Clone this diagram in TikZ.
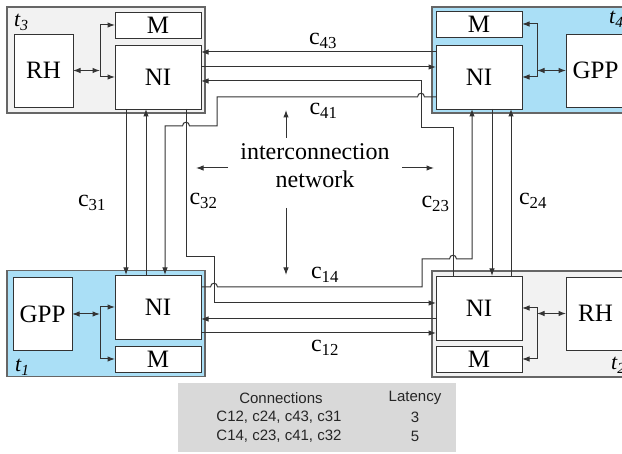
\documentclass[tikz,border=0pt]{standalone}
\usepackage{fontspec}
\setmainfont{Liberation Serif}
\newfontfamily\tabfont{Liberation Sans}
\usepackage{xcolor}
\usetikzlibrary{arrows.meta, positioning}
\definecolor{tileblue}{RGB}{170,223,246}

\begin{document}
\begin{tikzpicture}[
  x=1pt, y=-1pt,
  node distance=7pt,
  tile/.style={draw=black!60, line width=1.3pt, minimum width=198pt, minimum height=106pt, inner sep=0pt, outer sep=0pt},
  box/.style={draw=black!80, fill=white, line width=0.9pt, inner sep=0pt, outer sep=0pt, font=\fontsize{25}{29}\selectfont},
  nibox/.style={box, minimum width=86pt, minimum height=64pt},
  mbox/.style={box, minimum width=86pt, minimum height=26pt},
  pebox/.style={box, minimum width=59pt, minimum height=73pt},
  lbl/.style={font=\fontsize{24}{28}\selectfont, inner sep=0pt, anchor=base},
  tlbl/.style={font=\fontsize{22}{26}\selectfont\itshape, inner sep=0pt, anchor=base west},
  tbltext/.style={font=\tabfont\fontsize{15}{18}\selectfont, text=black!85, inner sep=0pt},
  arr/.style={-{Latex[length=7.5pt, width=5.5pt]}, line width=1pt, draw=black!80},
  dblarr/.style={{Latex[length=7.5pt, width=5.5pt]}-{Latex[length=7.5pt, width=5.5pt]}, line width=1pt, draw=black!80}
]
\useasboundingbox (0,0) rectangle (622,454);
\clip (0,0) rectangle (622,454);

% tiles
\node[tile, fill=gray!10] (tile3) at (106,60) {};
\node[tile, fill=tileblue] (tile4) at (531,60) {};
\node[tile, fill=tileblue] (tile1) at (106,323.5) {};
\node[tile, fill=gray!10] (tile2) at (531,324) {};
\node[tlbl] (lt3) at (14,27) {t\textsubscript{3}};
\node[tlbl] (lt4) at (609,24) {t\textsubscript{4}};
\node[tlbl] (lt1) at (15,372) {t\textsubscript{1}};
\node[tlbl] (lt2) at (611,370) {t\textsubscript{2}};

% tile t3
\node[nibox] (ni3) at (158,77) {NI};
\node[mbox, above=of ni3] (m3) {M};
\node[pebox] (rh3) at (43.5,70.5) {RH};
\coordinate (j3) at (100,0 |- rh3.east);
\draw[dblarr] (rh3.east) -- (j3);
\draw[arr] (j3) |- (m3.west);
\draw[arr] (j3) |- (ni3.west);

% tile t4
\node[nibox] (ni4) at (479,77) {NI};
\node[mbox, above=8pt of ni4] (m4) {M};
\node[pebox] (gpp4) at (595.5,70.5) {GPP};
\coordinate (j4) at (537,0 |- gpp4.west);
\draw[dblarr] (gpp4.west) -- (j4);
\draw[arr] (j4) |- (m4.east);
\draw[arr] (j4) |- (ni4.east);

% tile t1
\node[nibox] (ni1) at (158,307) {NI};
\node[mbox, below=of ni1] (m1) {M};
\node[pebox] (gpp1) at (42.5,314) {GPP};
\coordinate (j1) at (100,0 |- gpp1.east);
\draw[dblarr] (gpp1.east) -- (j1);
\draw[arr] (j1) |- (ni1.west);
\draw[arr] (j1) |- (m1.west);

% tile t2
\node[nibox] (ni2) at (479,308) {NI};
\node[mbox, below=6pt of ni2] (m2) {M};
\node[pebox] (rh2) at (595.5,313.5) {RH};
\coordinate (j2) at (537,0 |- rh2.west);
\draw[dblarr] (rh2.west) -- (j2);
\draw[arr] (j2) |- (ni2.east);
\draw[arr] (j2) |- (m2.east);

% channels t3 <-> t4
\draw[arr] (ni4.west |- 0,52) -- (ni3.east |- 0,52);
\draw[arr] (ni3.east |- 0,67) -- (ni4.west |- 0,67);
\draw[arr] (453,0 |- ni2.north) -- (453,128) -- (421,128) -- (421,81) -- (ni3.east |- 0,81);
\draw[arr] (ni4.west |- 0,97) -- (424.5,97) .. controls (424.5,92) and (417.5,92) .. (417.5,97)
  -- (217,97) -- (217,126) -- (189.5,126) .. controls (189.5,121) and (182.5,121) .. (182.5,126)
  -- (165,126) -- (165,0 |- ni1.north);

% channels t1 <-> t2
\draw[arr] (ni1.east |- 0,287) -- (210.5,287) .. controls (210.5,282) and (217.5,282) .. (217.5,287)
  -- (422,287) -- (422,259) -- (449.5,259) .. controls (449.5,254) and (456.5,254) .. (456.5,259)
  -- (472,259) -- (472,0 |- ni4.south);
\draw[arr] (186,0 |- ni3.south) -- (186,257) -- (214,257) -- (214,303) -- (ni2.west |- 0,303);
\draw[arr] (ni2.west |- 0,319) -- (ni1.east |- 0,319);
\draw[arr] (ni1.east |- 0,333) -- (ni2.west |- 0,333);

% vertical channels
\draw[arr] (126,0 |- ni3.south) -- (126,0 |- ni1.north);
\draw[arr] (146,0 |- ni1.north) -- (146,0 |- ni3.south);
\draw[arr] (492,0 |- ni4.south) -- (492,0 |- ni2.north);
\draw[arr] (511,0 |- ni2.north) -- (511,0 |- ni4.south);

% channel labels
\node[lbl] (l43) at (323,45) {c\textsubscript{43}};
\node[lbl] (l41) at (323.5,115) {c\textsubscript{41}};
\node[lbl] (l14) at (325,279) {c\textsubscript{14}};
\node[lbl] (l12) at (325,352) {c\textsubscript{12}};
\node[lbl] (l31) at (92,207) {c\textsubscript{31}};
\node[lbl] (l32) at (203.5,205) {c\textsubscript{32}};
\node[lbl] (l23) at (435.5,208) {c\textsubscript{23}};
\node[lbl] (l24) at (533,205) {c\textsubscript{24}};

% interconnection network
\node[lbl, align=center] (net) at (315,188) {interconnection\\network};
\coordinate (nu0) at (286,138); \coordinate (nu1) at (286,110);
\coordinate (nl0) at (228,168); \coordinate (nl1) at (196,168);
\coordinate (nr0) at (402,168); \coordinate (nr1) at (434,168);
\coordinate (nd0) at (286,208); \coordinate (nd1) at (286,275);
\draw[arr] (nu0) -- (nu1);
\draw[arr] (nl0) -- (nl1);
\draw[arr] (nr0) -- (nr1);
\draw[arr] (nd0) -- (nd1);

% latency table
\node[fill=gray!30, minimum width=278pt, minimum height=69pt, inner sep=0pt] (tbl) at (317,417.5) {};
\node[tbltext] (th1) at (281,398) {Connections};
\node[tbltext] (th2) at (415,398) {Latency};
\node[tbltext] (tr1) at (279,417) {C12, c24, c43, c31};
\node[tbltext] (tv1) at (415,417) {3};
\node[tbltext] (tr2) at (279,436) {C14, c23, c41, c32};
\node[tbltext] (tv2) at (415,436) {5};
\end{tikzpicture}
\end{document}
